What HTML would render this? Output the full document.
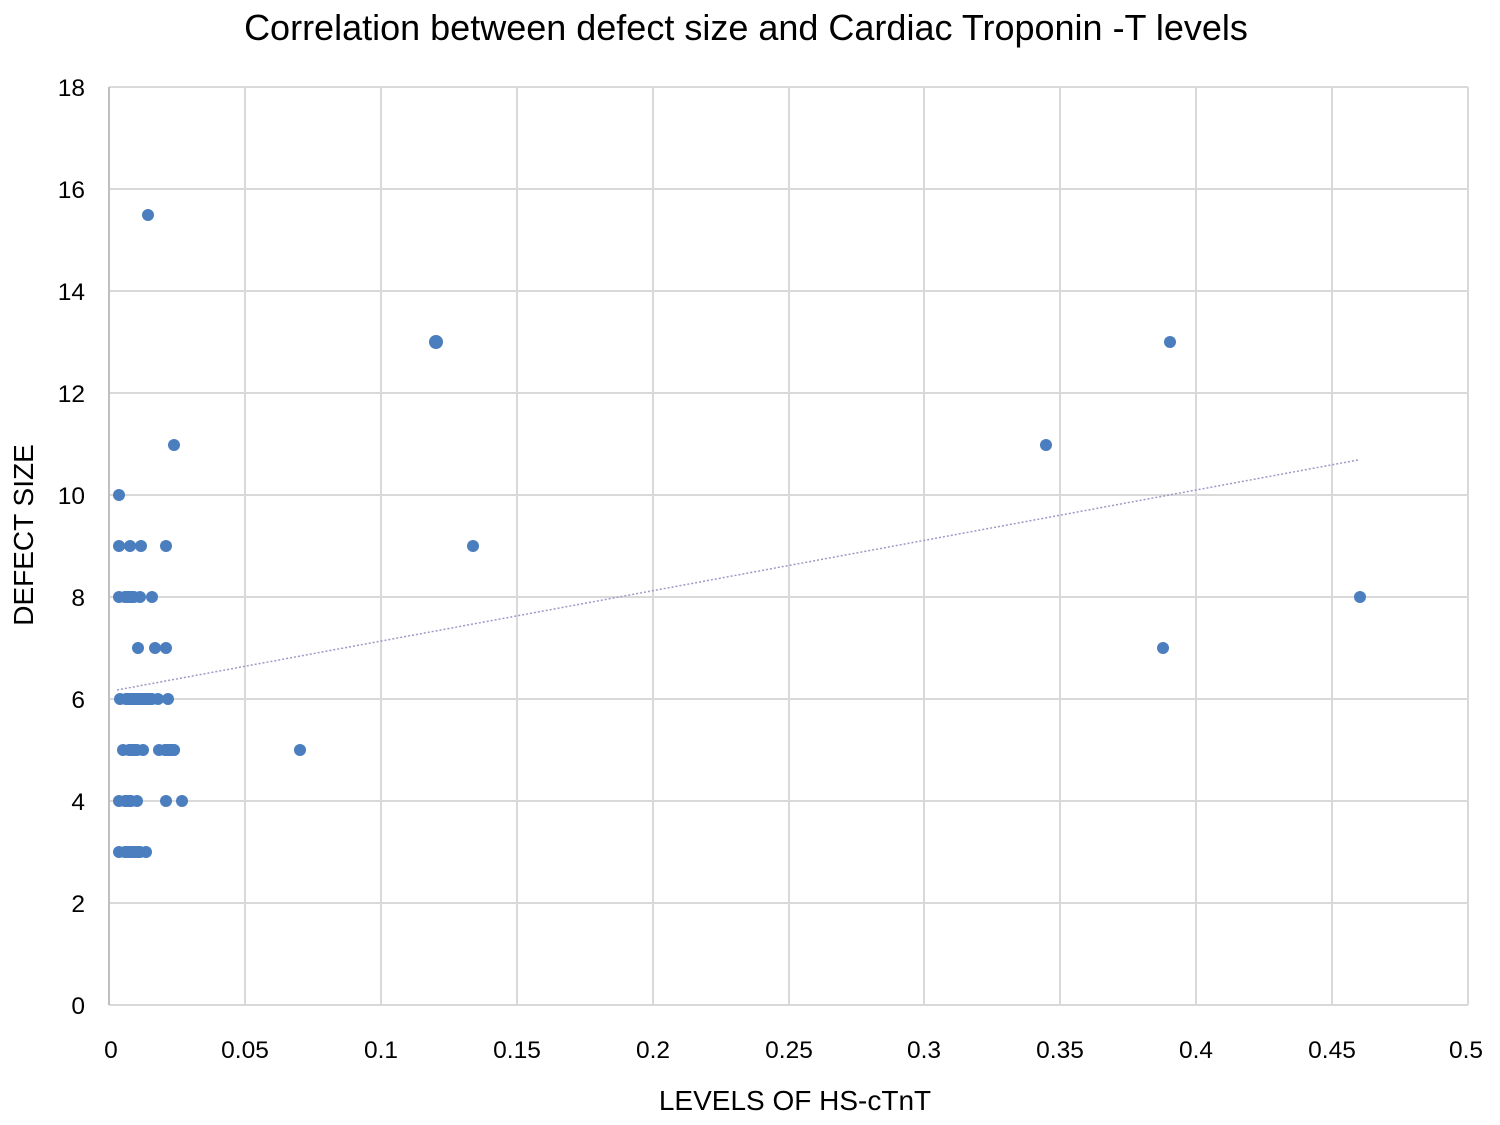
<!DOCTYPE html>
<html><head><style>body{margin:0;background:#fff}</style></head><body>
<svg width="1500" height="1120" xmlns="http://www.w3.org/2000/svg" font-family="Liberation Sans, sans-serif">
<rect width="1500" height="1120" fill="#fff"/>
<g stroke="#d9d9d9" stroke-width="2">
<line x1="109" y1="87" x2="1468" y2="87"/><line x1="109" y1="189" x2="1468" y2="189"/><line x1="109" y1="291" x2="1468" y2="291"/><line x1="109" y1="393" x2="1468" y2="393"/><line x1="109" y1="495" x2="1468" y2="495"/><line x1="109" y1="597" x2="1468" y2="597"/><line x1="109" y1="699" x2="1468" y2="699"/><line x1="109" y1="801" x2="1468" y2="801"/><line x1="109" y1="903" x2="1468" y2="903"/><line x1="109" y1="1005" x2="1468" y2="1005"/>
<line x1="245" y1="87" x2="245" y2="1005"/><line x1="381" y1="87" x2="381" y2="1005"/><line x1="517" y1="87" x2="517" y2="1005"/><line x1="653" y1="87" x2="653" y2="1005"/><line x1="789" y1="87" x2="789" y2="1005"/><line x1="924" y1="87" x2="924" y2="1005"/><line x1="1060" y1="87" x2="1060" y2="1005"/><line x1="1196" y1="87" x2="1196" y2="1005"/><line x1="1332" y1="87" x2="1332" y2="1005"/><line x1="1468" y1="87" x2="1468" y2="1005"/>
</g>
<line x1="109" y1="87" x2="109" y2="1005" stroke="#bfbfbf" stroke-width="2"/>
<line x1="117" y1="690" x2="1358" y2="460" stroke="#9a9ac8" stroke-width="1.5" stroke-dasharray="2,2"/>
<g fill="#4a7ebf">
<circle cx="119" cy="495" r="6"/>
<circle cx="119" cy="546" r="6"/><circle cx="130" cy="546" r="6"/><circle cx="141" cy="546" r="6"/><circle cx="166" cy="546" r="6"/>
<rect x="119" y="591" width="21" height="12" rx="6"/><circle cx="119" cy="597" r="6"/><circle cx="140" cy="597" r="6"/><circle cx="152" cy="597" r="6"/>
<circle cx="138" cy="648" r="6"/><circle cx="155" cy="648" r="6"/><circle cx="166" cy="648" r="6"/>
<rect x="120" y="693" width="38" height="12" rx="6"/><circle cx="120" cy="699" r="6"/><circle cx="158" cy="699" r="6"/><circle cx="168" cy="699" r="6"/>
<rect x="123" y="744" width="20" height="12" rx="6"/><circle cx="123" cy="750" r="6"/><circle cx="143" cy="750" r="6"/><rect x="159" y="744" width="21" height="12" rx="6"/><circle cx="159" cy="750" r="6"/><circle cx="174" cy="750" r="6"/><circle cx="300" cy="750" r="6"/>
<rect x="119" y="795" width="18" height="12" rx="6"/><circle cx="119" cy="801" r="6"/><circle cx="137" cy="801" r="6"/><circle cx="166" cy="801" r="6"/><circle cx="182" cy="801" r="6"/>
<rect x="119" y="846" width="27" height="12" rx="6"/><circle cx="119" cy="852" r="6"/><circle cx="146" cy="852" r="6"/>
<circle cx="148" cy="215" r="6"/><circle cx="174" cy="445" r="6"/><circle cx="436" cy="342" r="7"/><circle cx="1170" cy="342" r="6"/><circle cx="1046" cy="445" r="6"/><circle cx="473" cy="546" r="6"/><circle cx="1360" cy="597" r="6"/><circle cx="1163" cy="648" r="6"/>
</g>
<g font-size="24.5" fill="#000" text-anchor="end">
<text x="85" y="96">18</text><text x="85" y="198">16</text><text x="85" y="300">14</text><text x="85" y="402">12</text><text x="85" y="504">10</text><text x="85" y="606">8</text><text x="85" y="708">6</text><text x="85" y="810">4</text><text x="85" y="912">2</text><text x="85" y="1014">0</text>
</g>
<g font-size="24.5" fill="#000" text-anchor="middle">
<text x="111" y="1058">0</text><text x="245" y="1058">0.05</text><text x="381" y="1058">0.1</text><text x="517" y="1058">0.15</text><text x="653" y="1058">0.2</text><text x="789" y="1058">0.25</text><text x="924" y="1058">0.3</text><text x="1060" y="1058">0.35</text><text x="1196" y="1058">0.4</text><text x="1332" y="1058">0.45</text><text x="1466" y="1058">0.5</text>
<text x="795" y="1110" font-size="28">LEVELS OF HS-cTnT</text>
<text x="746" y="40" font-size="36">Correlation between defect size and Cardiac Troponin -T levels</text>
<text transform="translate(33,535) rotate(-90)" font-size="28">DEFECT SIZE</text>
</g>
</svg>
</body></html>
